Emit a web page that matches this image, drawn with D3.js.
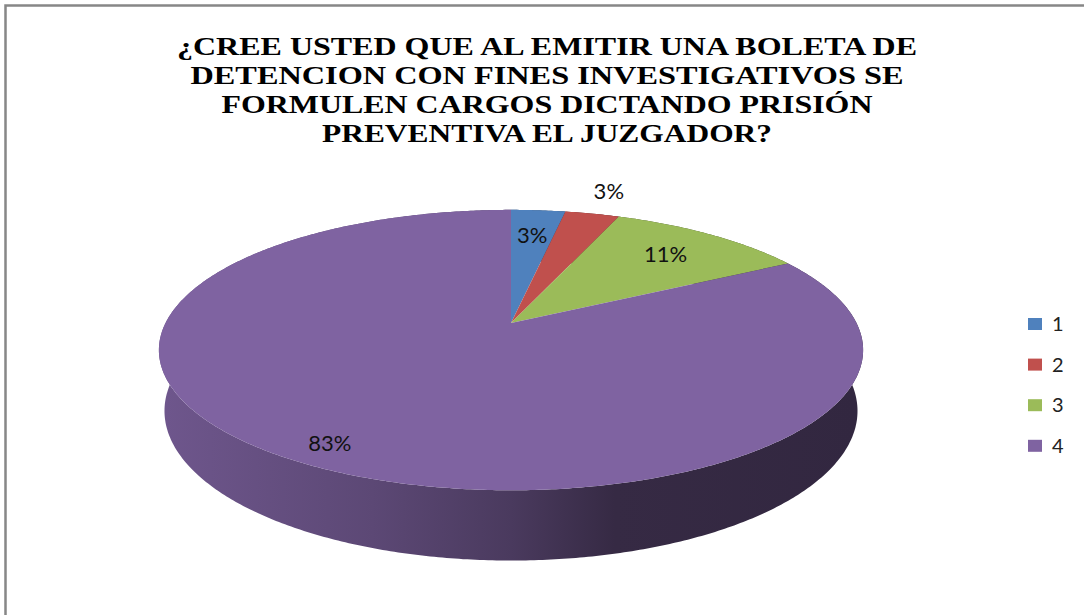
<!DOCTYPE html>
<html>
<head>
<meta charset="utf-8">
<script src="https://cdn.jsdelivr.net/npm/d3@7"></script>
<style>
  body { margin: 0; background: #fff; }
  svg { display: block; }
</style>
</head>
<body>
<script>
(() => {
    // data
    var titleLines = [
        "¿CREE USTED QUE AL EMITIR UNA BOLETA DE",
        "DETENCION CON FINES INVESTIGATIVOS SE",
        "FORMULEN CARGOS DICTANDO PRISIÓN",
        "PREVENTIVA EL JUZGADOR?"
    ];
    var categories = ["1", "2", "3", "4"];
    var values = [3, 3, 11, 83];
    var labels = ["3%", "3%", "11%", "83%"];

    var w = 1084,
        h = 615;

    var svg = d3.select("body").append("svg")
        .attr("width", w).attr("height", h);

    // frame (right and bottom edges run off the picture)
    svg.append("rect")
        .attr("x", 5.5).attr("y", 5.5)
        .attr("width", w + 20).attr("height", h + 20)
        .attr("fill", "#fff").attr("stroke", "#878787").attr("stroke-width", 2.5);

    // title
    var titleWidths = [740, 713, 651, 450];
    svg.append("g").selectAll("text").data(titleLines).enter()
        .append("text")
        .attr("x", 547)
        .attr("y", (d, i) => 55 + i * 29)
        .attr("text-anchor", "middle")
        .attr("font-family", "'Liberation Serif', 'Times New Roman', serif")
        .attr("font-weight", "bold")
        .attr("font-size", 26)
        .attr("textLength", (d, i) => titleWidths[i])
        .attr("lengthAdjust", "spacingAndGlyphs")
        .attr("fill", "#000")
        .text(d => d);

    // 3d pie with perspective
    var color = d3.scaleOrdinal().domain(categories)
        .range(["#4f81bd", "#c0504d", "#9bbb59", "#7f63a1"]);

    var cx = 511, cy = 323,
        F = 1648, D = 4.77,
        tilt = 23 * Math.PI / 180,
        depth = 0.19;

    function proj(a, r, t) {
        var px = r * Math.sin(a), pz = r * Math.cos(a);
        var Y = pz * Math.sin(tilt) - t * Math.cos(tilt);
        var Z = pz * Math.cos(tilt) + t * Math.sin(tilt);
        var s = F / (D + Z);
        return [cx + px * s, cy - Y * s];
    }

    function arcPts(a0, a1, r, t) {
        var n = Math.max(2, Math.ceil((a1 - a0) / 0.01));
        var pts = [];
        for (var i = 0; i <= n; i++) {
            pts.push(proj(a0 + (a1 - a0) * i / n, r, t));
        }
        return pts;
    }

    var pie = d3.pie().sort(null).value(d => d);
    var arcs = pie(values);
    var line = d3.line();

    var defs = svg.append("defs");
    var x0 = proj(-Math.PI / 2, 1, 0)[0], x1 = proj(Math.PI / 2, 1, 0)[0];
    var shade = [[0, 0.4], [0.3, 0.9], [0.5, 1.5], [0.65, 2.4], [1, 2.6]];
    categories.forEach((c, i) => {
        var g = defs.append("linearGradient").attr("id", "side" + i)
            .attr("gradientUnits", "userSpaceOnUse")
            .attr("x1", x0).attr("x2", x1).attr("y1", 0).attr("y2", 0);
        shade.forEach(s => {
            g.append("stop").attr("offset", s[0])
                .attr("stop-color", d3.color(color(c)).darker(s[1]).formatHex());
        });
    });

    var pieG = svg.append("g");

    // outer walls
    pieG.selectAll(".wall").data(arcs).enter()
        .append("path").attr("class", "wall")
        .attr("d", d => {
            var top = arcPts(d.startAngle, d.endAngle, 1, 0);
            var bot = arcPts(d.startAngle, d.endAngle, 1, depth).reverse();
            return line(top.concat(bot)) + "Z";
        })
        .attr("fill", (d, i) => "url(#side" + i + ")");

    // top faces
    pieG.selectAll(".top").data(arcs).enter()
        .append("path").attr("class", "top")
        .attr("d", d => line([proj(0, 0, 0)].concat(arcPts(d.startAngle, d.endAngle, 1, 0))) + "Z")
        .attr("fill", (d, i) => color(categories[i]));

    // data labels
    pieG.selectAll(".lbl").data(arcs).enter()
        .append("text").attr("class", "lbl")
        .attr("transform", (d, i) => {
            var mid = (d.startAngle + d.endAngle) / 2;
            var r = i === 1 ? 1.25 : (d.value > 50 ? 0.88 : 0.75);
            return "translate(" + proj(mid, r, 0) + ")";
        })
        .attr("text-anchor", "middle")
        .attr("dy", "0.36em")
        .attr("font-family", "Lato, 'Open Sans', sans-serif")
        .attr("font-size", 22)
        .attr("fill", "#111")
        .text((d, i) => labels[i]);

    // legend
    var legend = svg.append("g").attr("transform", "translate(1028, 324)");
    var items = legend.selectAll(".item").data(categories).enter()
        .append("g").attr("class", "item")
        .attr("transform", (d, i) => "translate(0," + (i * 40.6) + ")");
    items.append("rect")
        .attr("x", 0).attr("y", -6)
        .attr("width", 14).attr("height", 12)
        .attr("fill", d => color(d));
    items.append("text")
        .attr("x", 24).attr("y", 0).attr("dy", "0.36em")
        .attr("font-family", "Lato, 'Open Sans', sans-serif")
        .attr("font-size", 20)
        .attr("fill", "#222")
        .text(d => d);
})()
</script>
</body>
</html>
